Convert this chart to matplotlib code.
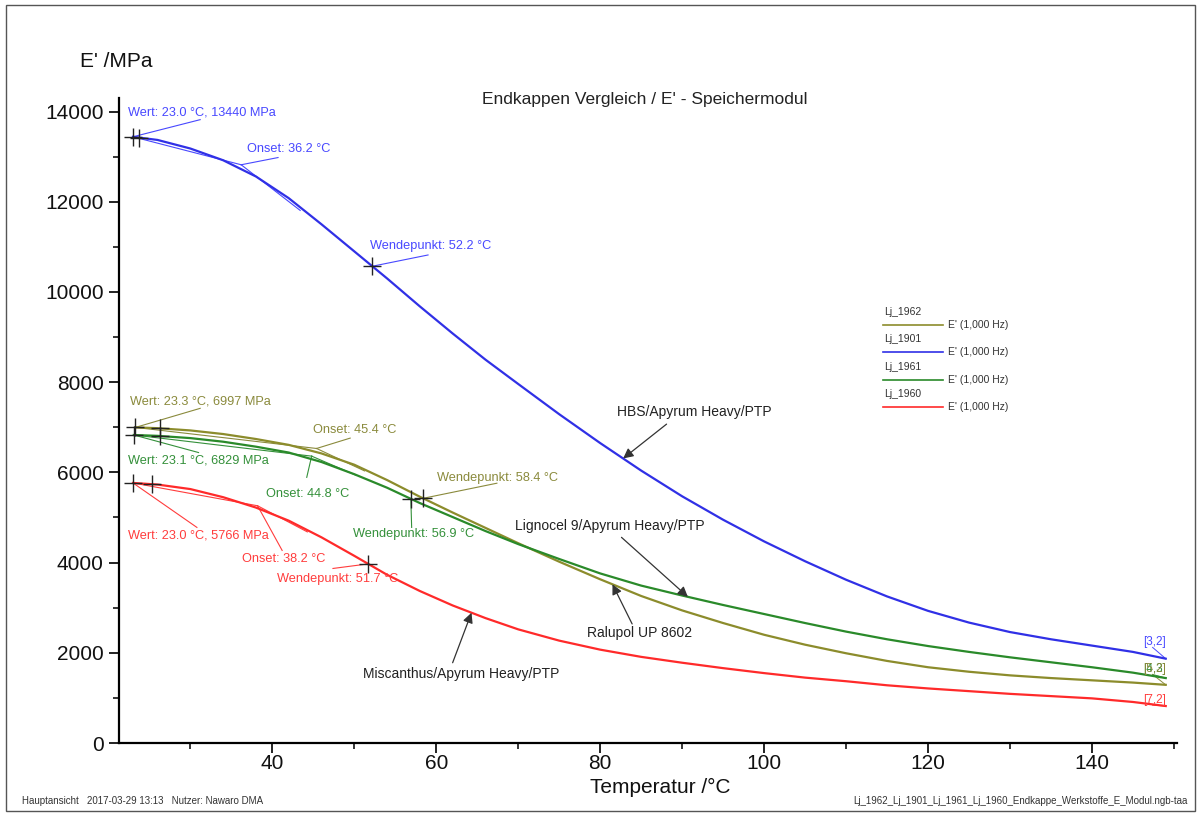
import numpy as np
import matplotlib
matplotlib.use("Agg")
import matplotlib.pyplot as plt
from matplotlib.lines import Line2D
from matplotlib.patches import Rectangle
from matplotlib.ticker import MultipleLocator

plt.rcParams['font.family'] = ['Liberation Sans', 'DejaVu Sans']

# E' storage modulus (MPa) vs temperature (°C), 1 Hz, four end cap materials
temp_1901 = [23.0, 26, 30, 34, 38, 42, 46, 50, 54, 58, 62, 66, 70, 75, 80, 85, 90, 95,
             100, 105, 110, 115, 120, 125, 130, 135, 140, 145, 149]
e_1901 = [13440, 13370, 13180, 12920, 12560, 12080, 11500, 10900, 10300, 9680, 9080, 8500,
          7960, 7290, 6650, 6040, 5470, 4950, 4470, 4030, 3620, 3250, 2930, 2670, 2460,
          2300, 2160, 2020, 1870]

temp_1962 = [23.3, 26, 30, 34, 38, 42, 46, 50, 54, 58, 62, 66, 70, 75, 80, 85, 90, 95,
             100, 105, 110, 115, 120, 125, 130, 135, 140, 145, 149]
e_1962 = [6997, 6980, 6930, 6850, 6740, 6610, 6420, 6170, 5830, 5460, 5110, 4770, 4430,
          4020, 3630, 3260, 2940, 2660, 2400, 2180, 1990, 1820, 1680, 1580, 1500, 1440,
          1390, 1340, 1290]

temp_1961 = [23.1, 26, 30, 34, 38, 42, 46, 50, 54, 58, 62, 66, 70, 75, 80, 85, 90, 95,
             100, 105, 110, 115, 120, 125, 130, 135, 140, 145, 149]
e_1961 = [6829, 6810, 6760, 6680, 6570, 6440, 6230, 5960, 5660, 5320, 5010, 4700, 4410,
          4080, 3760, 3490, 3270, 3060, 2860, 2660, 2470, 2300, 2150, 2020, 1900, 1790,
          1680, 1560, 1440]

temp_1960 = [23.0, 26, 30, 34, 38, 42, 46, 50, 54, 58, 62, 66, 70, 75, 80, 85, 90, 95,
             100, 105, 110, 115, 120, 125, 130, 135, 140, 145, 149]
e_1960 = [5766, 5730, 5630, 5450, 5220, 4930, 4560, 4150, 3730, 3370, 3050, 2770, 2520,
          2270, 2070, 1910, 1780, 1660, 1550, 1450, 1370, 1280, 1210, 1150, 1090, 1040,
          990, 910, 820]

# evaluation results per curve: (start T, start E), second range marker T, onset, inflection
wert = {"1901": (23.0, 13440), "1962": (23.3, 6997), "1961": (23.1, 6829), "1960": (23.0, 5766)}
range_end = {"1901": 23.7, "1962": 26.3, "1961": 26.3, "1960": 25.3}
onset = {"1901": (36.2, 12820), "1962": (45.4, 6530), "1961": (44.8, 6360), "1960": (38.2, 5260)}
wende_t = {"1901": 52.2, "1962": 58.4, "1961": 56.9, "1960": 51.7}

series = {
    "1962": (temp_1962, e_1962),
    "1901": (temp_1901, e_1901),
    "1961": (temp_1961, e_1961),
    "1960": (temp_1960, e_1960),
}
line_col = {"1962": "#8c8c2c", "1901": "#3030e6", "1961": "#2a8a2a", "1960": "#ff2a2a"}
text_col = {"1962": "#8a8a3c", "1901": "#4848ff", "1961": "#34903a", "1960": "#ff3c3c"}

fig = plt.figure(figsize=(12, 8.14), dpi=100)
ax = fig.add_axes([0.0992, 0.0872, 0.8818, 0.7924])

for key, (t, e) in series.items():
    ax.plot(t, e, color=line_col[key], lw=1.6, zorder=3)

def on_curve(key, x):
    t, e = series[key]
    return float(np.interp(x, t, e))

# tangents, crosses and result labels
label_pos = {
    "1901": {"wert": (22.4, 13980), "wert_end": (31.2, 13820),
             "onset": (36.9, 13160), "onset_end": (40.7, 12980),
             "wende": (51.9, 11020), "wende_end": (59.0, 10820)},
    "1962": {"wert": (22.6, 7580), "wert_end": (31.2, 7420),
             "onset": (45.0, 6930), "onset_end": (49.5, 6760),
             "wende": (60.1, 5870), "wende_end": (67.4, 5760)},
    "1961": {"wert": (22.4, 6270), "wert_end": (31.0, 6440),
             "onset": (39.2, 5510), "onset_end": (44.2, 5890),
             "wende": (49.8, 4640), "wende_end": (57.0, 4780)},
    "1960": {"wert": (22.4, 4600), "wert_end": (30.8, 4780),
             "onset": (36.3, 4090), "onset_end": (41.2, 4270),
             "wende": (40.6, 3640), "wende_end": (47.4, 3870)},
}

for key in series:
    c = text_col[key]
    x0, y0 = wert[key]
    xo, yo = onset[key]
    xw = wende_t[key]
    yw = on_curve(key, xw)
    x1 = range_end[key]
    y1 = on_curve(key, x1)
    # baseline tangent and inflection tangent meeting at the onset
    ax.plot([x0, xo], [y0, yo], color=c, lw=0.8, zorder=2)
    ax.plot([xo, xo + 0.45 * (xw - xo)], [yo, yo + 0.45 * (yw - yo)], color=c, lw=0.8, zorder=2)
    # markers
    ax.plot([x0, x1, xw], [y0, y1, yw], ls="none", marker="+", ms=13, mew=1.0,
            color="#222222", zorder=5)
    lp = label_pos[key]
    # leader lines
    ax.plot([x0, lp["wert_end"][0]], [y0, lp["wert_end"][1]], color=c, lw=0.8, zorder=2)
    ax.plot([xo, lp["onset_end"][0]], [yo, lp["onset_end"][1]], color=c, lw=0.8, zorder=2)
    ax.plot([xw, lp["wende_end"][0]], [yw, lp["wende_end"][1]], color=c, lw=0.8, zorder=2)
    ax.text(*lp["wert"], f"Wert: {x0:.1f} °C, {y0} MPa", color=c, fontsize=9.2,
            va="center", ha="left")
    ax.text(*lp["onset"], f"Onset: {xo:.1f} °C", color=c, fontsize=9.2, va="center", ha="left")
    ax.text(*lp["wende"], f"Wendepunkt: {xw:.1f} °C", color=c, fontsize=9.2,
            va="center", ha="left")

# curve end tags
end_tags = [("1901", "[3,2]", 2240), ("1961", "[4,3]", 1640), ("1962", "[5,2]", 1640),
            ("1960", "[7,2]", 960)]
for key, tag, ty in end_tags:
    t, e = series[key]
    ax.text(147.6, ty, tag, color=text_col[key], fontsize=8.5, ha="center", va="center")
    ax.plot([t[-1], 147.4], [e[-1], ty - 120], color=text_col[key], lw=0.7)

# material labels with arrows
materials = [
    ("HBS/Apyrum Heavy/PTP", "1901", 82.8, (91.5, 7330), (88.1, 7070)),
    ("Lignocel 9/Apyrum Heavy/PTP", "1961", 90.7, (81.2, 4820), (82.6, 4560)),
    ("Ralupol UP 8602", "1962", 81.5, (84.8, 2440), (83.9, 2640)),
    ("Miscanthus/Apyrum Heavy/PTP", "1960", 64.3, (63.1, 1530), (62.0, 1780)),
]
for name, key, xt, txt_xy, start_xy in materials:
    ax.text(*txt_xy, name, fontsize=10, color="#222222", ha="center", va="center")
    ax.annotate("", xy=(xt, on_curve(key, xt)), xytext=start_xy,
                arrowprops=dict(arrowstyle="-|>", color="#333333", lw=0.9,
                                mutation_scale=15, shrinkA=0, shrinkB=0), zorder=6)

ax.set_xlim(21.3, 150.4)
ax.set_ylim(0, 14300)
ax.xaxis.set_major_locator(MultipleLocator(20))
ax.xaxis.set_minor_locator(MultipleLocator(10))
ax.yaxis.set_major_locator(MultipleLocator(2000))
ax.yaxis.set_minor_locator(MultipleLocator(1000))
for side in ["top", "right"]:
    ax.spines[side].set_visible(False)
for side in ["left", "bottom"]:
    ax.spines[side].set_linewidth(1.6)
ax.tick_params(which="major", length=7, width=1.3, labelsize=15, colors="#111111", pad=4)
ax.tick_params(which="minor", length=4, width=1.1)
ax.tick_params(axis="x", pad=1)

fig.text(0.067, 0.924, "E' /MPa", fontsize=15, ha="left", va="center", color="#111111")
fig.text(0.55, 0.032, "Temperatur /°C", fontsize=15, ha="center", va="center", color="#111111")
fig.text(0.5375, 0.878, "Endkappen Vergleich / E' - Speichermodul", fontsize=12.5,
         ha="center", va="center", color="#222222")

# legend block
leg_y = [325, 352, 380, 407]
for key, py in zip(["1962", "1901", "1961", "1960"], leg_y):
    yf = 1 - py / 814
    fig.text(884 / 1200, yf + 13 / 814, f"Lj_{key}", fontsize=7.5, color="#333333",
             ha="left", va="center")
    fig.add_artist(Line2D([883 / 1200, 943 / 1200], [yf, yf], color=line_col[key], lw=1.2))
    fig.text(948 / 1200, yf, "E' (1,000 Hz)", fontsize=7.5, color="#333333",
             ha="left", va="center")

fig.text(22 / 1200, 1 - 801 / 814, "Hauptansicht   2017-03-29 13:13   Nutzer: Nawaro DMA",
         fontsize=7, color="#333333", ha="left", va="center")
fig.text(1188 / 1200, 1 - 801 / 814,
         "Lj_1962_Lj_1901_Lj_1961_Lj_1960_Endkappe_Werkstoffe_E_Modul.ngb-taa",
         fontsize=7, color="#333333", ha="right", va="center")

fig.add_artist(Rectangle((6 / 1200, 3 / 814), 1189 / 1200, 806 / 814, fill=False,
                         edgecolor="#555555", lw=1.0, transform=fig.transFigure))

fig.savefig("out.png", dpi=100)
